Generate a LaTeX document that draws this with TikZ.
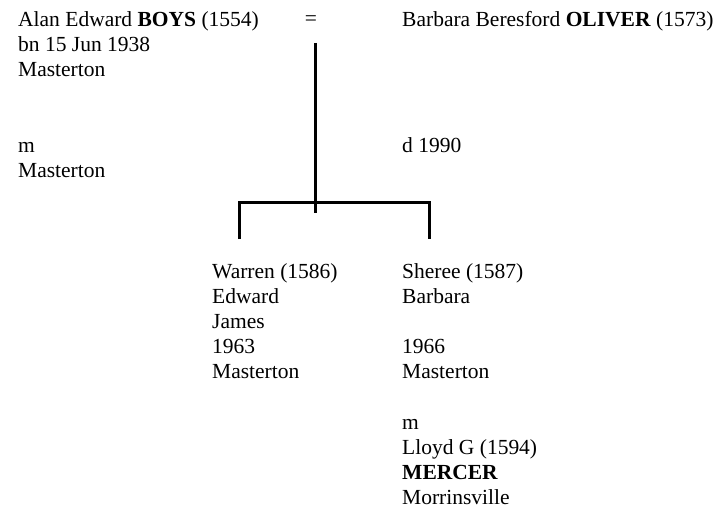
\documentclass[tikz,border=0pt]{standalone}
\usepackage{fontspec}
\setmainfont{Liberation Serif}
\usetikzlibrary{positioning}

\begin{document}
\begin{tikzpicture}[x=1pt, y=-1pt,
  person/.style={anchor=north west, inner sep=0pt, align=left, font=\fontsize{21.5pt}{25.2pt}\selectfont},
  sign/.style={inner sep=0pt, font=\fontsize{21.5pt}{25.2pt}\selectfont},
  line/.style={line width=3pt}]
\useasboundingbox (0,0) rectangle (718,511);

% parents
\node[person] (boys) at (18,11) {Alan Edward \textbf{BOYS} (1554)\\bn 15 Jun 1938\\Masterton\\[50.4pt]m\\Masterton};
\node[person] (oliver) at (402,11) {Barbara Beresford \textbf{OLIVER} (1573)\\[100.8pt]d 1990};
\node[sign] (eq) at (311,21) {=};

% children
\node[person] (warren) at (212,263) {Warren (1586)\\Edward\\James\\1963\\Masterton};
\node[person] (sheree) at (402,263) {Sheree (1587)\\Barbara\\[25.2pt]1966\\Masterton\\[25.2pt]m\\Lloyd G (1594)\\\textbf{MERCER}\\Morrinsville};

\coordinate (link) at (315,43);
\coordinate (famend) at (315,213);
\coordinate (c1) at (239,202);
\coordinate (c2) at (429,202);
\coordinate (c1end) at (239,239);
\coordinate (c2end) at (429,239);

\draw[line] (link) -- (famend);
\draw[line] (c1end) -- (c1) -- (c2) -- (c2end);
\end{tikzpicture}
\end{document}
